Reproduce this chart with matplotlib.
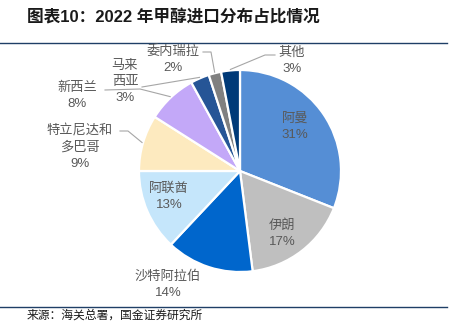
import numpy as np
import matplotlib
matplotlib.use("Agg")
import matplotlib.pyplot as plt

plt.rcParams["font.family"] = ["Liberation Sans", "Noto Sans CJK SC"]

countries = ["阿曼", "伊朗", "沙特阿拉伯", "阿联酋", "特立尼达和\n多巴哥",
             "新西兰", "马来\n西亚", "委内瑞拉", "其他"]
shares = [31, 17, 14, 13, 9, 8, 3, 2, 3]
colors = ["#558ED5", "#BFBFBF", "#0066CC", "#C5E6FB", "#FDEABF",
          "#C3A8F8", "#265596", "#808080", "#003A78"]

W, H = 450, 329
fig = plt.figure(figsize=(W / 100, H / 100), dpi=100)
ax = fig.add_axes([0, 0, 1, 1])


def py(y):
    # pixel row (from top) -> data y
    return H - y


cx, cy, r = 240, py(171), 101
wedges, _ = ax.pie(shares, colors=colors, startangle=90, counterclock=False,
                   center=(cx, cy), radius=r, frame=True,
                   wedgeprops=dict(edgecolor="white", linewidth=1.6))
ax.set_xlim(0, W)
ax.set_ylim(0, H)
ax.set_aspect("equal")
ax.axis("off")

label_pos = [(295, 127), (282, 234), (168, 285), (169, 197), (80, 147),
             (77, 96), (125, 82), (173, 60), (292, 61)]
# leader line start / elbow (pixels), None = no leader
leaders = [None, None, None, None,
           [(120, 131), (128, 131)],
           [(105, 90), (140, 89)],
           [(142, 87)],
           [(203, 52), (211, 52)],
           [(275, 55), (265, 55)]]

txt = "#595959"
for w, name, s, pos, ld in zip(wedges, countries, shares, label_pos, leaders):
    ax.text(pos[0], py(pos[1]), f"{name}\n{s}%", ha="center", va="center",
            fontsize=9.5, color=txt, linespacing=1.45)
    if ld:
        mid = np.deg2rad((w.theta1 + w.theta2) / 2)
        ex = cx + r * 1.01 * np.cos(mid)
        ey = cy + r * 1.01 * np.sin(mid)
        xs = [p[0] for p in ld] + [ex]
        ys = [py(p[1]) for p in ld] + [ey]
        ax.plot(xs, ys, color="#A6A6A6", lw=0.8)

ax.text(27, py(17), "图表10：2022 年甲醇进口分布占比情况", fontsize=12,
        fontweight="bold", color="#1a1a1a", ha="left", va="center")
ax.plot([0, 447], [py(43), py(43)], color="#1F3F66", lw=1.0)
ax.plot([0, 447], [py(307), py(307)], color="#1F3F66", lw=1.0)
ax.text(27, py(316), "来源：海关总署，国金证券研究所", fontsize=8.5,
        color="#1a1a1a", ha="left", va="center")

fig.savefig("out.png", dpi=100)
